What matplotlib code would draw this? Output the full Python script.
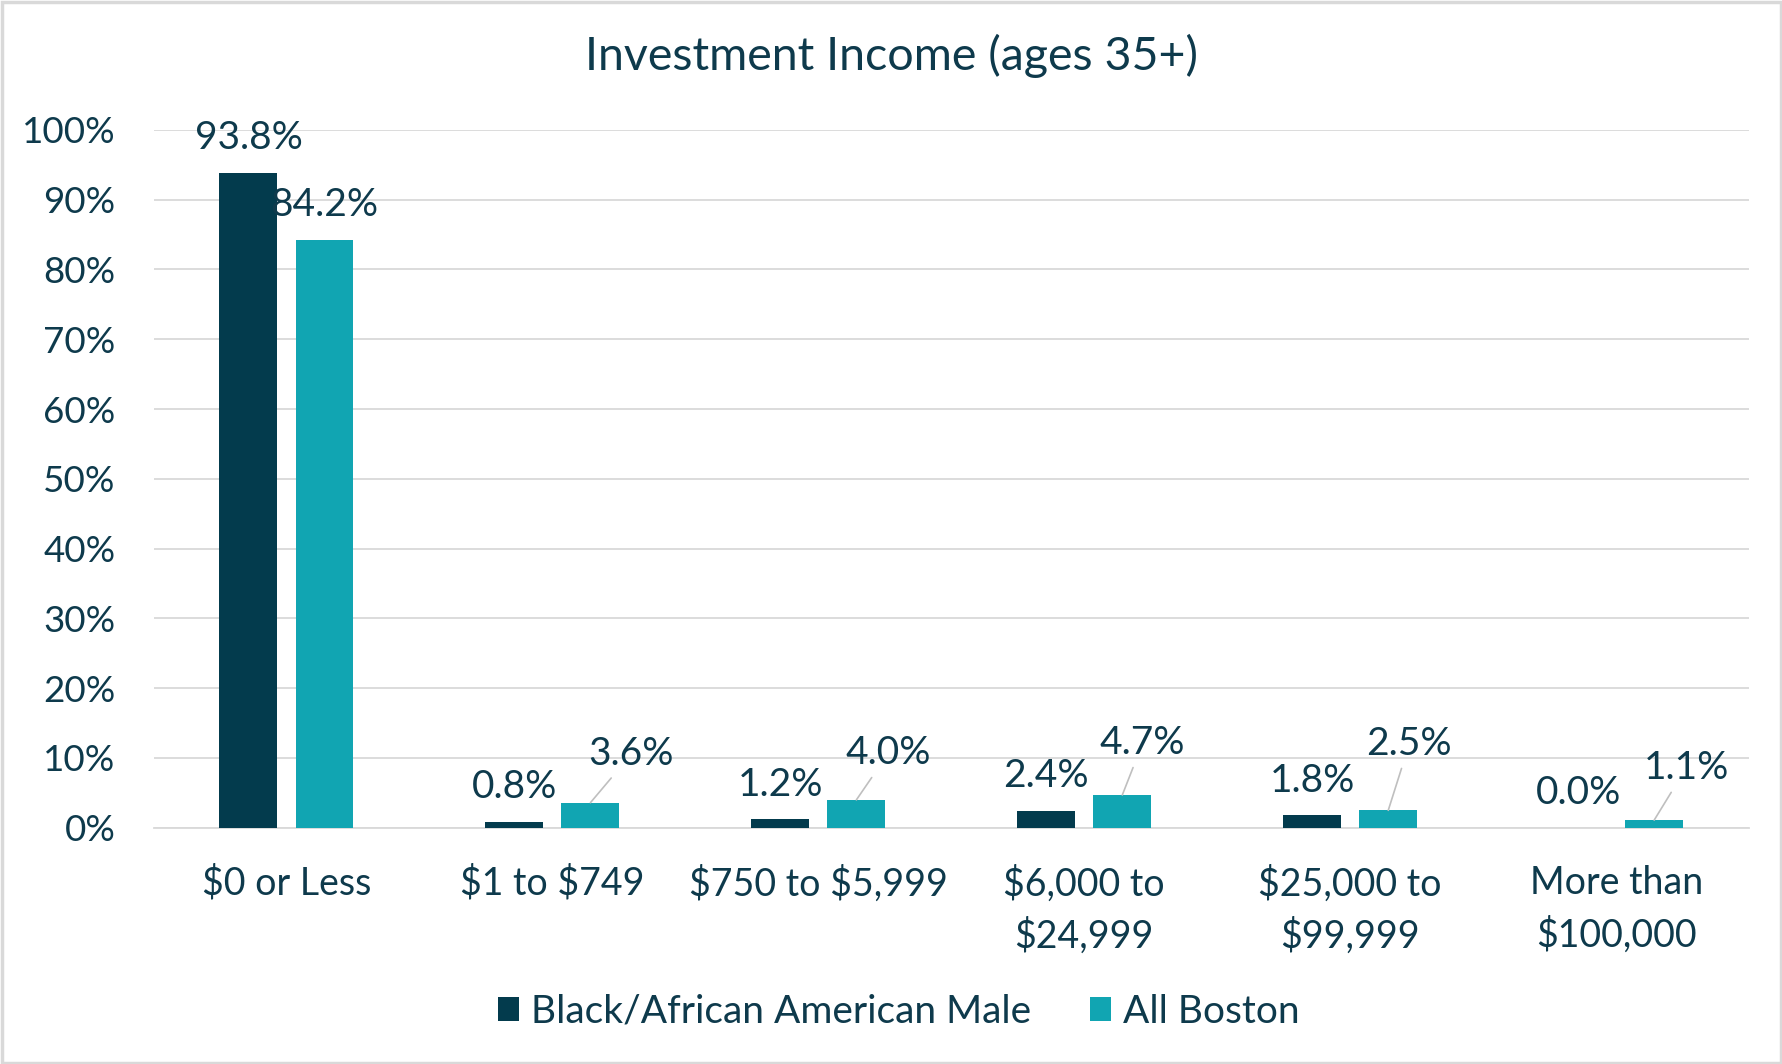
import matplotlib
matplotlib.use("Agg")
import matplotlib.pyplot as plt
from matplotlib.patches import Rectangle, Patch
import numpy as np

plt.rcParams['font.family'] = ['Lato', 'DejaVu Sans']
plt.rcParams['text.parse_math'] = False

categories = ["$0 or Less", "$1 to $749", "$750 to $5,999", "$6,000 to\n$24,999",
              "$25,000 to\n$99,999", "More than\n$100,000"]
series_names = ["Black/African American Male", "All Boston"]
black_male = [93.8, 0.8, 1.2, 2.4, 1.8, 0.0]
all_boston = [84.2, 3.6, 4.0, 4.7, 2.5, 1.1]
yticks = [0, 10, 20, 30, 40, 50, 60, 70, 80, 90, 100]

TXT = '#0E3A4C'
DARK = '#033B4D'
TEAL = '#11A5B2'
GRID = '#D9D9D9'

fig = plt.figure(figsize=(17.83, 10.64), dpi=100)
ax = fig.add_axes([0.0861, 0.222, 0.8949, 0.656])

x = np.arange(len(categories))
w = 0.218
off = 0.143
ax.bar(x - off, black_male, w, color=DARK, zorder=3)
ax.bar(x + off, all_boston, w, color=TEAL, zorder=3)

ax.set_xlim(-0.5, len(categories) - 0.5)
ax.set_ylim(0, 100)
ax.set_yticks(yticks)
ax.set_yticklabels([f"{t}%" for t in yticks])
ax.set_xticks(x)
ax.set_xticklabels(categories, linespacing=1.5)
ax.yaxis.grid(True, color=GRID, lw=1.3, zorder=0)
ax.set_axisbelow(True)
for s in ['top', 'right', 'left']:
    ax.spines[s].set_visible(False)
ax.spines['bottom'].set_color(GRID)
ax.spines['bottom'].set_linewidth(1.3)
ax.tick_params(axis='y', length=0, labelsize=26.5, labelcolor=TXT, pad=27.5)
ax.tick_params(axis='x', length=0, labelsize=27, labelcolor=TXT, pad=27)

FS = 28
for xi, v in zip(x, black_male):
    ax.annotate(f"{v:.1f}%", (xi - off, v), xytext=(0, 25), textcoords='offset points',
                ha='center', va='center', fontsize=FS, color=TXT, zorder=5)

teal_offsets = [(0, 25), (29.5, 35), (23, 33.5), (14.7, 37.5), (15.2, 48), (23, 37.5)]
for i, (xi, v) in enumerate(zip(x, all_boston)):
    dx, dy = teal_offsets[i]
    kw = dict(xytext=(dx, dy), textcoords='offset points', ha='center', va='center',
              fontsize=FS, color=TXT, zorder=5)
    if dx != 0:
        kw['arrowprops'] = dict(arrowstyle='-', color='#BFBFBF', lw=1.2, shrinkA=3, shrinkB=0)
    ax.annotate(f"{v:.1f}%", (xi + off, v), **kw)

fig.text(0.5, 0.947, "Investment Income (ages 35+)", ha='center', va='center',
         fontsize=33.5, color=TXT)

handles = [Patch(facecolor=DARK), Patch(facecolor=TEAL)]
leg = fig.legend(handles, series_names, loc='center', bbox_to_anchor=(0.504, 0.049),
                 ncol=2, frameon=False, fontsize=28, handlelength=0.55, handleheight=0.55,
                 handletextpad=0.3, columnspacing=1.5)
for t in leg.get_texts():
    t.set_color(TXT)

fig.patches.append(Rectangle((0.001, 0.001), 0.998, 0.997, transform=fig.transFigure,
                             fill=False, edgecolor=GRID, lw=2.5))

fig.savefig("out.png", dpi=100)
